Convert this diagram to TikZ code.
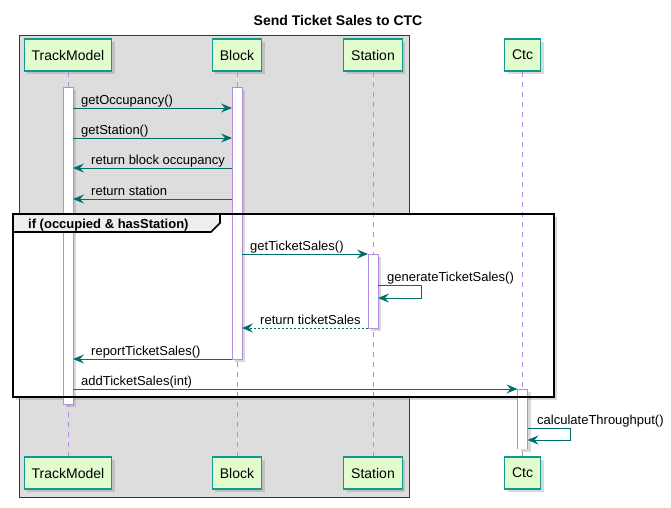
\documentclass[tikz,border=0pt]{standalone}
\usepackage{fontspec}
\setmainfont{Liberation Sans}
\usetikzlibrary{arrows.meta,shadows}
\definecolor{partfill}{HTML}{E2FCCE}
\definecolor{partline}{HTML}{129B8C}
\definecolor{msgcol}{HTML}{006E6B}
\definecolor{lifecol}{HTML}{B48EDC}
\definecolor{boxfill}{HTML}{DDDDDD}
\definecolor{boxline}{HTML}{A80036}
\definecolor{tabfill}{HTML}{EEEEEE}
\tikzset{
	shade3/.style={drop shadow={shadow xshift=3pt,shadow yshift=-3pt,opacity=.3}},
	part/.style={draw=partline,fill=partfill,line width=1.2pt,minimum height=32pt,
		inner xsep=7.5pt,font=\fontsize{14}{16}\selectfont,shade3},
	lifeline/.style={draw=lifecol,line width=.8pt,dash pattern=on 5pt off 5pt},
	actbar/.style={draw=lifecol,fill=white,line width=.8pt,minimum width=10pt,
		inner sep=0pt,outer sep=0pt,shade3},
	msg/.style={draw=msgcol,line width=1pt,-{Stealth[length=11pt,width=9pt,inset=4pt]}},
	msglbl/.style={font=\fontsize{13}{15}\selectfont,inner sep=0pt,anchor=base west},
	frame/.style={draw=black,line width=1.6pt}
}
\begin{document}
\begin{tikzpicture}[x=1pt,y=-1pt]
	\useasboundingbox (0,0) rectangle (671,507);
	\node[font=\bfseries\fontsize{14}{16}\selectfont,anchor=base] (title) at (338,25) {Send Ticket Sales to CTC};
	% box round the track side
	\draw[boxline,fill=boxfill,line width=.8pt] (19,35) rectangle (409,497);
	% group frame, ground only
	\fill[white,shade3] (13,214) rectangle (554,397);
	% participants and lifelines
	\foreach \n/\t/\x in {tm/TrackModel/68,blk/Block/237,st/Station/373,ctc/Ctc/522.5}{
			\node[part] (\n) at (\x,55) {\t};
			\node[part] (\n-b) at (\x,473) {\t};
			\draw[lifeline] (\n) -- (\n-b);
		}
	% activations
	\node[actbar,minimum height=317pt] (tmA) at (68,245.5) {};
	\node[actbar,minimum height=272pt] (blkA) at (237,223) {};
	\node[actbar,minimum height=74pt] (stA) at (373,291) {};
	\node[actbar,draw=none,minimum height=60pt] (ctcA) at (522.5,419) {};
	\draw[lifecol,line width=.8pt] (ctcA.south west) -- (ctcA.north west) -- (ctcA.north east) -- (ctcA.south east);
	% group frame, border and tab
	\draw[frame] (13,214) rectangle (554,397);
	\draw[frame,fill=tabfill] (13,214) -- (220,214) -- (220,223) -- (211,232) -- (13,232) -- cycle;
	\node[font=\bfseries\fontsize{13}{15}\selectfont,inner sep=0pt,anchor=base west] (grp) at (28,228) {if (occupied \& hasStation)};
	% messages
	\draw[msg] (tmA.east |- 0,108) -- (blkA.west |- 0,108);
	\node[msglbl] (l1) at (81,104) {getOccupancy()};
	\draw[msg] (tmA.east |- 0,138) -- (blkA.west |- 0,138);
	\node[msglbl] (l2) at (81,134) {getStation()};
	\draw[msg] (blkA.west |- 0,168) -- (tmA.east |- 0,168);
	\node[msglbl] (l3) at (91,164) {return block occupancy};
	\draw[msg] (blkA.west |- 0,199) -- (tmA.east |- 0,199);
	\node[msglbl] (l4) at (91,195) {return station};
	\draw[msg] (blkA.east |- 0,254) -- (stA.west |- 0,254);
	\node[msglbl] (l5) at (250,250) {getTicketSales()};
	\draw[msg] (stA.east |- 0,285) -- ++(43,0) |- (stA.east |- 0,298);
	\node[msglbl] (l6) at (387,281) {generateTicketSales()};
	\draw[msg,line width=.8pt,dash pattern=on 2pt off 2pt] (stA.west |- 0,328) -- (blkA.east |- 0,328);
	\node[msglbl] (l7) at (260,324) {return ticketSales};
	\draw[msg] (blkA.west |- 0,359) -- (tmA.east |- 0,359);
	\node[msglbl] (l8) at (91,355) {reportTicketSales()};
	\draw[msg] (tmA.east |- 0,389) -- (ctcA.west |- 0,389);
	\node[msglbl] (l9) at (81,385) {addTicketSales(int)};
	\draw[msg] (ctcA.east |- 0,428) -- ++(43,0) |- (ctcA.east |- 0,440);
	\node[msglbl] (l10) at (537,424) {calculateThroughput()};
\end{tikzpicture}
\end{document}
